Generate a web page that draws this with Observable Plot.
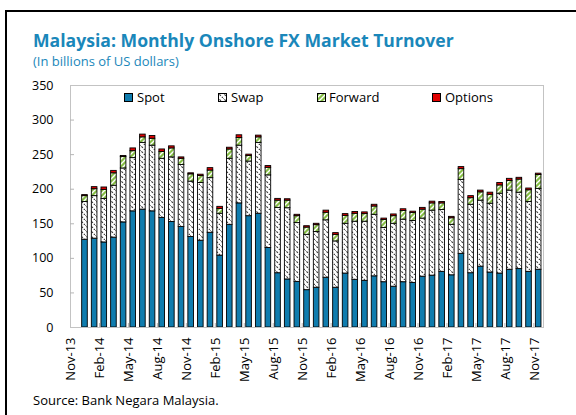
<!DOCTYPE html>
<html><head><meta charset="utf-8">
<script src="https://cdn.jsdelivr.net/npm/d3@7"></script>
<script src="https://cdn.jsdelivr.net/npm/@observablehq/plot@0.6"></script>
<style>
html,body{margin:0;padding:0;background:#fff;}
#wrap{position:relative;width:576px;height:415px;overflow:hidden;font-family:"Open Sans",sans-serif;color:#000;}
#border{position:absolute;left:5px;top:10px;width:800px;height:800px;border-left:2px solid #000;border-top:2px solid #000;}
#title{position:absolute;left:33px;top:30px;font-size:17.6px;font-weight:700;color:#1a87ba;white-space:nowrap;line-height:20px;}
#subtitle{position:absolute;left:33px;top:53px;font-size:13px;color:#1a87ba;white-space:nowrap;line-height:16px;}
#chart{position:absolute;left:0;top:0;}
#source{position:absolute;left:33px;top:392px;font-size:13px;white-space:nowrap;line-height:16px;}
.lg{position:absolute;top:89px;font-size:13px;line-height:16px;white-space:nowrap;}
.sw{position:absolute;top:93px;}
</style>
</head><body>
<div id="wrap">
  <div id="border"></div>
  <div id="title">Malaysia: Monthly Onshore FX Market Turnover</div>
  <div id="subtitle">(In billions of US dollars)</div>
  <div id="chart"></div>
  <svg class="sw" style="left:124px" width="10" height="10"><rect x="0.5" y="0.5" width="8" height="8" fill="#0f7cae" stroke="#000"/></svg>
  <div class="lg" style="left:137px">Spot</div>
  <svg class="sw" style="left:218px" width="10" height="10"><rect x="0.5" y="0.5" width="8" height="8" fill="url(#swapPat)" stroke="#000"/></svg>
  <div class="lg" style="left:231px">Swap</div>
  <svg class="sw" style="left:317px" width="10" height="10"><rect x="0.5" y="0.5" width="8" height="8" fill="url(#fwdPat)" stroke="#000"/></svg>
  <div class="lg" style="left:329px">Forward</div>
  <svg class="sw" style="left:432px" width="10" height="10"><rect x="0.5" y="0.5" width="8" height="8" fill="#e00000" stroke="#000"/></svg>
  <div class="lg" style="left:445px">Options</div>
  <div id="source">Source: Bank Negara Malaysia.</div>
</div>
<script>
// ---- data (billions of US dollars) ----
const months = ["Nov-13","Dec-13","Jan-14","Feb-14","Mar-14","Apr-14","May-14","Jun-14","Jul-14","Aug-14","Sep-14","Oct-14",
  "Nov-14","Dec-14","Jan-15","Feb-15","Mar-15","Apr-15","May-15","Jun-15","Jul-15","Aug-15","Sep-15","Oct-15",
  "Nov-15","Dec-15","Jan-16","Feb-16","Mar-16","Apr-16","May-16","Jun-16","Jul-16","Aug-16","Sep-16","Oct-16",
  "Nov-16","Dec-16","Jan-17","Feb-17","Mar-17","Apr-17","May-17","Jun-17","Jul-17","Aug-17","Sep-17","Oct-17","Nov-17"];
const spot = [null,127,128.5,123,130,152,168,170.5,168,158.5,152.5,145.5,131,125.5,137,104,148.5,179.5,161,164.5,115,78.5,69.5,66,54,57.5,72,57.5,78,69,67.5,74,65.5,59,65.5,64.5,73.5,75,80.5,75.5,106.5,78.5,88,79.5,78,83.5,84.5,80.5,83.5];
const swap = [null,54.5,61.5,63,75,78,77,96.5,95,85.5,93.5,89.5,80,83.5,79,60.5,95.5,83.5,79,102.5,105,94.5,103,85,80,80.5,83,67,72,84,85.5,89,78.5,91,90.5,89.5,84,94,89.5,73,107,99,95.5,99.5,115.5,114.5,110.5,101,117];
const forward = [null,8.5,10,13,18,16.5,10,8,10,10,13,9,10.5,10,11,7,13.5,11,8,8,11,10.5,11,10,10.5,10,11,9.5,11.5,11.5,11,12,11.5,11,12.5,11.5,13,10.5,9.5,9.5,15.5,9.5,12,13,12,14,19,17,20];
const options = [null,1.5,3,3.5,3.5,1.5,4,4,4,3.5,3,2,1.5,2,3.5,3,2.5,4,2,2.5,2.5,2.5,2,2,2,2,3,2.5,2.5,2.5,2.5,2.5,2,2.5,2.5,2,2.5,2.5,2,2,3,3,2.5,3,3.5,3,2.5,2.5,2];
const seriesNames = ["Spot","Swap","Forward","Options"];
const yTicks = [0,50,100,150,200,250,300,350];
const labelMonths = months.filter((m, i) => i % 3 === 0);

// ---- table for Plot ----
const seriesValues = [spot, swap, forward, options];
const rows = [];
months.forEach((m, i) => {
  seriesNames.forEach((s, k) => {
    const v = seriesValues[k][i];
    if (v != null) rows.push({month: m, series: s, value: v});
  });
});

// ---- styles / layout ----
const fills = {Spot: "#0f7cae", Swap: "url(#swapPat)", Forward: "url(#fwdPat)", Options: "#e00000"};
const W = 576, H = 392, mT = 85, mL = 70, mR = 33, mB = H - 327;
const plotW = W - mL - mR, plotH = H - mT - mB;
const step = plotW / months.length;

const chart = Plot.plot({
  width: W, height: H,
  marginTop: mT, marginLeft: mL, marginRight: mR, marginBottom: mB,
  style: {fontFamily: "'Open Sans', sans-serif", background: "transparent", color: "#000"},
  x: {type: "band", domain: months, paddingInner: 0.42, paddingOuter: 0.21, axis: null},
  y: {domain: [0, 350], axis: null},
  color: {type: "identity"},
  marks: [
    Plot.barY(rows, {x: "month", y: "value", fill: d => fills[d.series], stroke: "#000", strokeWidth: 0.9}),
    Plot.frame({stroke: "#c3c3c3"}),
    Plot.ruleY(yTicks.slice(1, -1), {y: d => d, stroke: "#b5b5b5", insetRight: plotW - 4}),
    Plot.ruleX(labelMonths.slice(1), {x: d => d, dx: -step / 2, stroke: "#b5b5b5", insetTop: plotH - 4}),
    Plot.text(yTicks, {y: d => d, text: d => String(d), frameAnchor: "left", textAnchor: "end", dx: -17, fontSize: 12.5, fill: "#000"}),
    Plot.text(labelMonths, {x: d => d, text: d => d, frameAnchor: "bottom", rotate: -90, textAnchor: "end", dy: 10, fontSize: 13, fill: "#000"})
  ]
});

// hatch patterns
const defs = d3.select(chart).insert("defs", ":first-child");
const sp = defs.append("pattern").attr("id", "swapPat").attr("patternUnits", "userSpaceOnUse").attr("width", 5).attr("height", 5);
sp.append("rect").attr("width", 5).attr("height", 5).attr("fill", "#fff");
sp.append("path").attr("d", "M-1,-1L6,6").attr("stroke", "#3a3a3a").attr("stroke-width", 1.1).attr("stroke-dasharray", "2.2,1.2");
const fp = defs.append("pattern").attr("id", "fwdPat").attr("patternUnits", "userSpaceOnUse").attr("width", 5).attr("height", 5);
fp.append("rect").attr("width", 5).attr("height", 5).attr("fill", "#86bf45");
fp.append("path").attr("d", "M-1,6L6,-1M-1,1L1,-1M4,6L6,4").attr("stroke", "#fff").attr("stroke-width", 1.4);

document.getElementById("chart").appendChild(chart);
</script>
</body></html>
